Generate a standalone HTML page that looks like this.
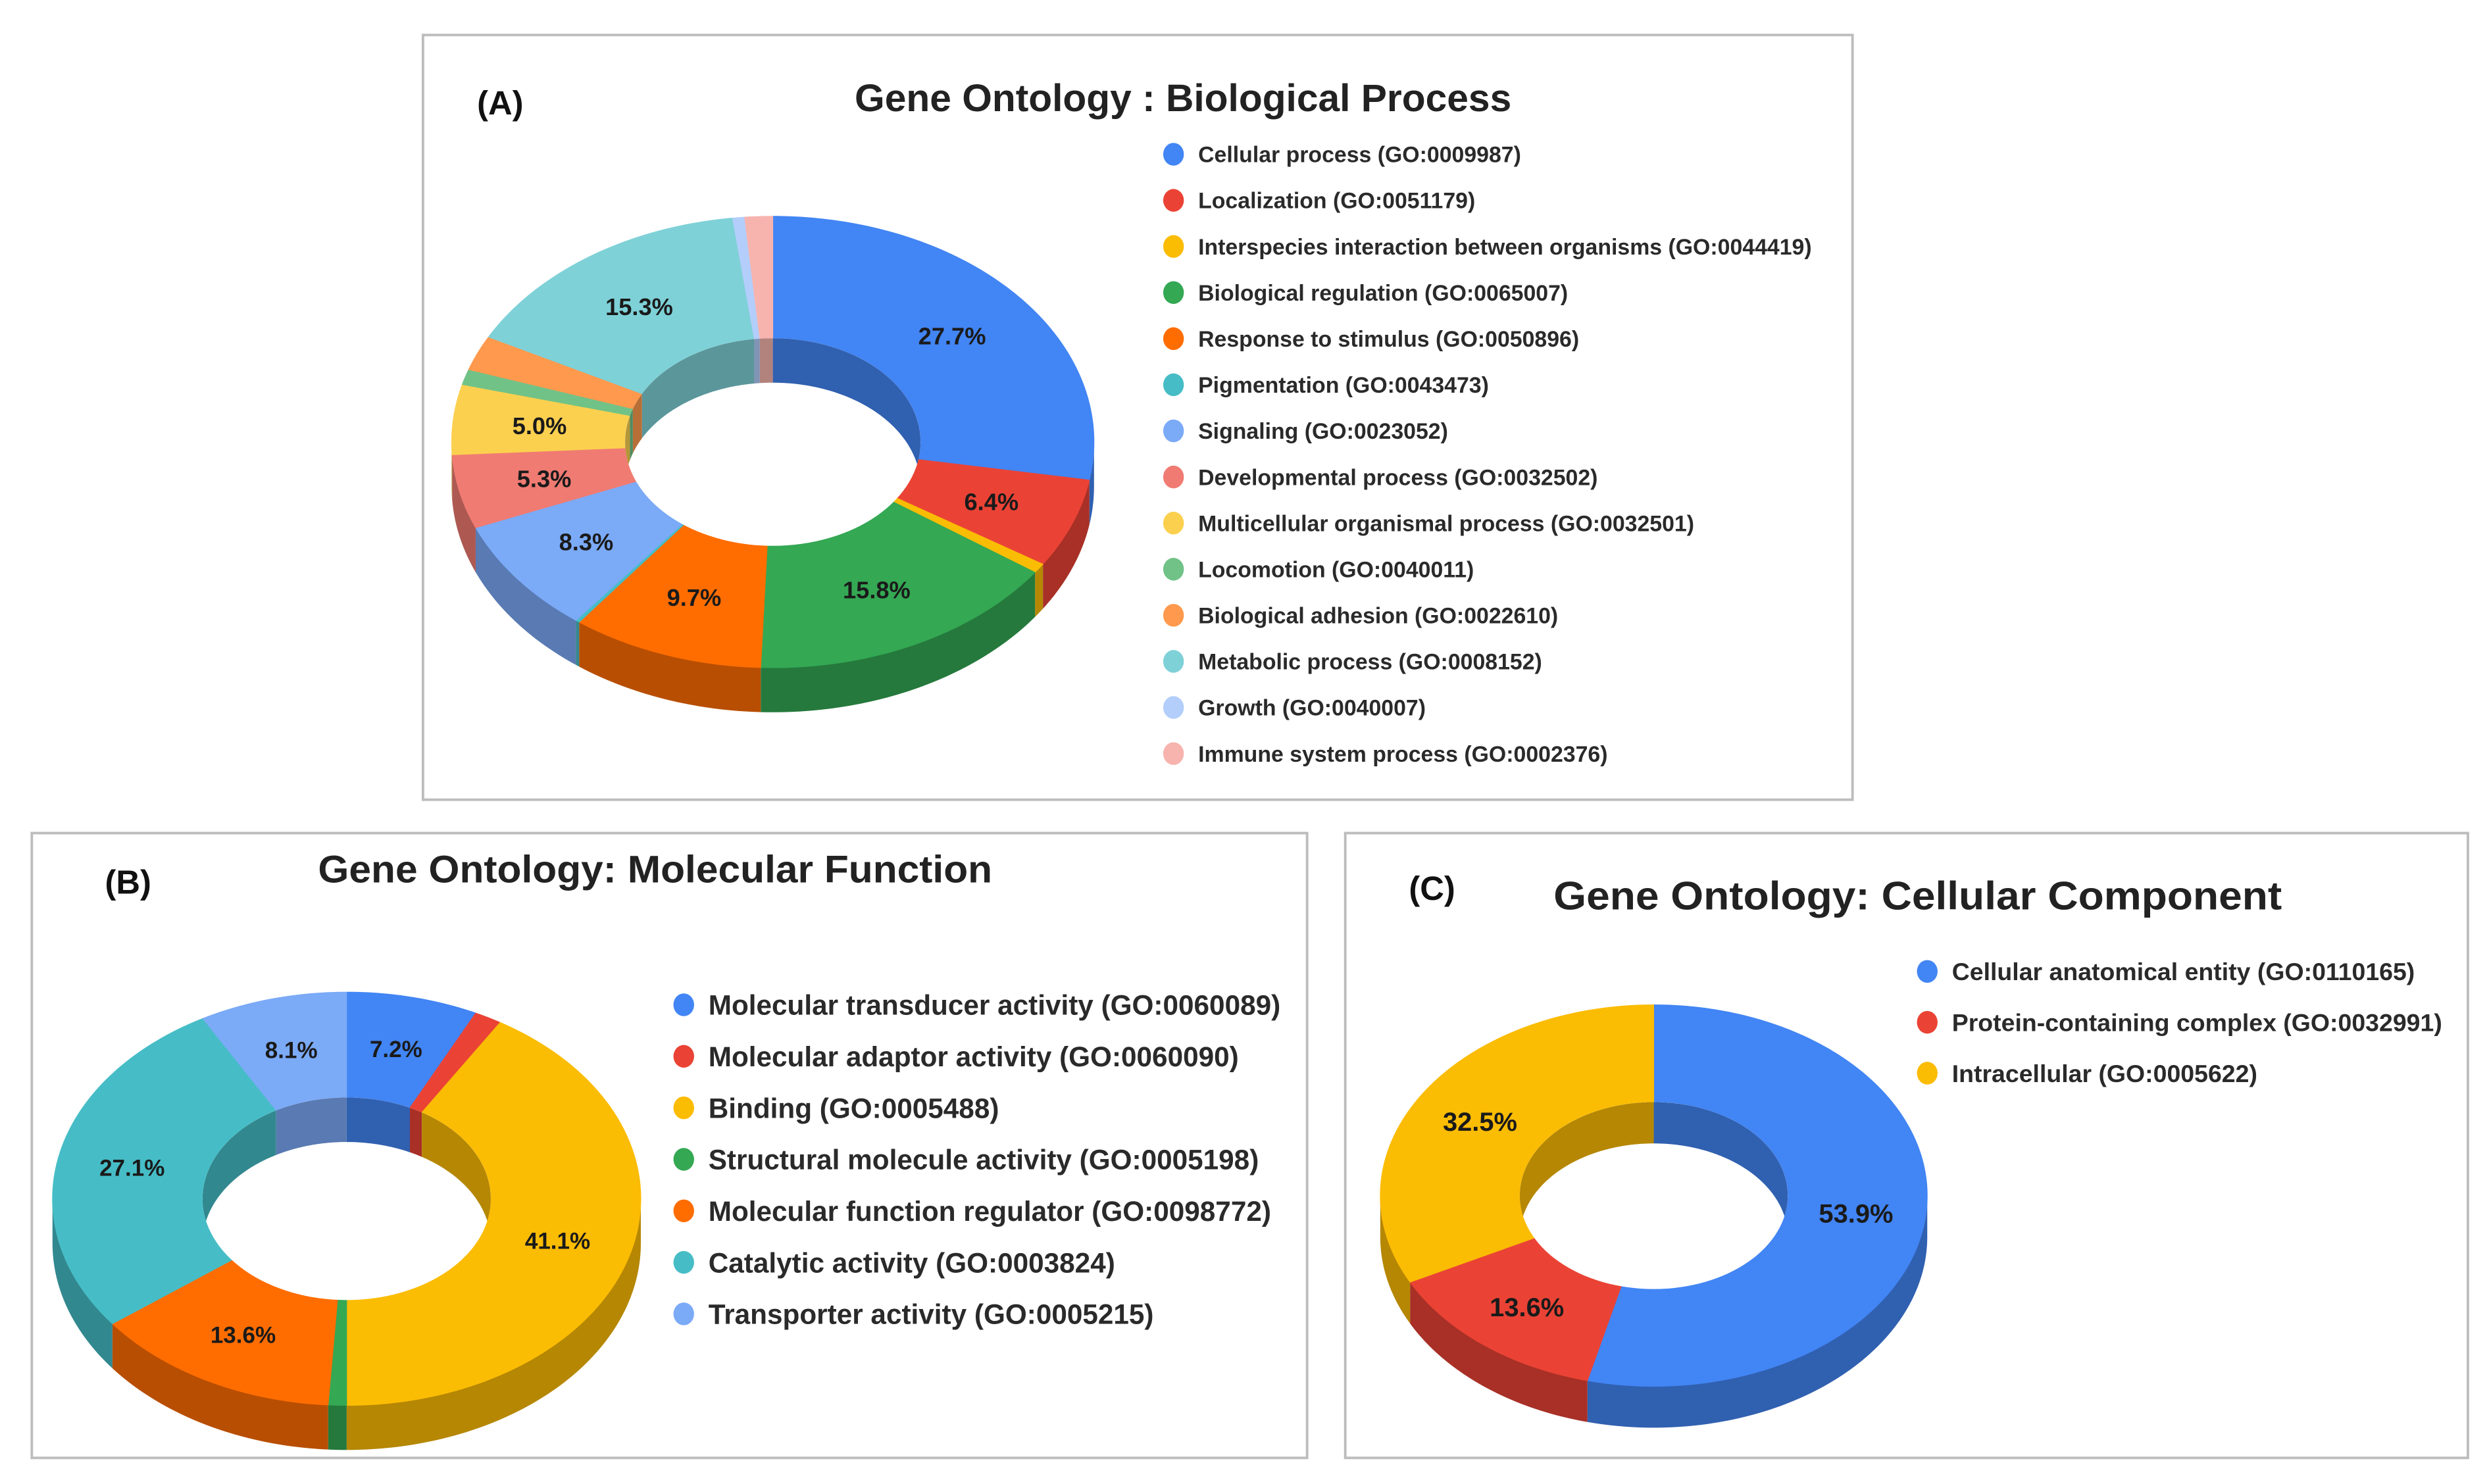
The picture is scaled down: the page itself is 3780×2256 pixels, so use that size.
<!DOCTYPE html>
<html><head><meta charset="utf-8">
<style>
html,body{margin:0;padding:0;background:#fff;}
svg{display:block;}
text{font-family:"Liberation Sans",Arial,sans-serif;}
</style></head>
<body>
<svg id="fig" width="3780" height="2256" viewBox="0 0 1564 933.4" xmlns="http://www.w3.org/2000/svg">
<rect x="0" y="0" width="1564" height="933.4" fill="#fff"/>
<rect x="266" y="22" width="899" height="481" fill="none" stroke="#bdbdbd" stroke-width="1.6"/>
<rect x="20" y="524" width="802" height="393" fill="none" stroke="#bdbdbd" stroke-width="1.6"/>
<rect x="846" y="524" width="706" height="393" fill="none" stroke="#bdbdbd" stroke-width="1.6"/>

<text x="300" y="72" font-size="21" font-weight="bold" fill="#111">(A)</text>
<text x="744" y="70" font-size="24" font-weight="bold" fill="#222" text-anchor="middle" textLength="413" lengthAdjust="spacingAndGlyphs">Gene Ontology : Biological Process</text>
<text x="66" y="562" font-size="21" font-weight="bold" fill="#111">(B)</text>
<text x="200" y="555" font-size="24" font-weight="bold" fill="#222" textLength="424" lengthAdjust="spacingAndGlyphs">Gene Ontology: Molecular Function</text>
<text x="886" y="566" font-size="21" font-weight="bold" fill="#111">(C)</text>
<text x="977" y="572" font-size="25" font-weight="bold" fill="#222" textLength="458" lengthAdjust="spacingAndGlyphs">Gene Ontology: Cellular Component</text>
<g id="charts"></g>
</svg>
<script>
// ---- Panel A data ----
const catsA = ["Cellular process (GO:0009987)","Localization (GO:0051179)","Interspecies interaction between organisms (GO:0044419)","Biological regulation (GO:0065007)","Response to stimulus (GO:0050896)","Pigmentation (GO:0043473)","Signaling (GO:0023052)","Developmental process (GO:0032502)","Multicellular organismal process (GO:0032501)","Locomotion (GO:0040011)","Biological adhesion (GO:0022610)","Metabolic process (GO:0008152)","Growth (GO:0040007)","Immune system process (GO:0002376)"];
const valsA = [27.7,6.4,0.7,15.8,9.7,0.2,8.3,5.3,5.0,1.1,2.5,15.3,0.6,1.4];
const labelsA = ["27.7%","6.4%","","15.8%","9.7%","","8.3%","5.3%","5.0%","","","15.3%","",""];
const colorsA = ["#4285f4","#ea4335","#fbbc04","#34a853","#ff6d01","#46bdc6","#7baaf7","#f07b72","#fcd04f","#71c287","#ff994d","#7ed1d7","#b3cefb","#f7b4ae"];
// ---- Panel B data ----
const catsB = ["Molecular transducer activity (GO:0060089)","Molecular adaptor activity (GO:0060090)","Binding (GO:0005488)","Structural molecule activity (GO:0005198)","Molecular function regulator (GO:0098772)","Catalytic activity (GO:0003824)","Transporter activity (GO:0005215)"];
const valsB = [7.2,1.5,41.1,1.0,13.6,27.1,8.1];
const labelsB = ["7.2%","","41.1%","","13.6%","27.1%","8.1%"];
const colorsB = ["#4285f4","#ea4335","#fbbc04","#34a853","#ff6d01","#46bdc6","#7baaf7"];
// ---- Panel C data ----
const catsC = ["Cellular anatomical entity (GO:0110165)","Protein-containing complex (GO:0032991)","Intracellular (GO:0005622)"];
const valsC = [53.9,13.6,32.5];
const labelsC = ["53.9%","13.6%","32.5%"];
const colorsC = ["#4285f4","#ea4335","#fbbc04"];

const NS = "http://www.w3.org/2000/svg";
const root = document.getElementById("charts");
function mk(tag, attrs, parent){const e=document.createElementNS(NS,tag);for(const k in attrs)e.setAttribute(k,attrs[k]);(parent||root).appendChild(e);return e;}
function darken(hex,f){const n=parseInt(hex.slice(1),16);const r=Math.round(((n>>16)&255)*f),g=Math.round(((n>>8)&255)*f),b=Math.round((n&255)*f);return `rgb(${r},${g},${b})`;}
function pt(g,rx,ry,deg,dy){const t=deg*Math.PI/180;return [g.cx+rx*Math.sin(t),g.cy-ry*Math.cos(t)+(dy||0)];}
function arc(g,rx,ry,a1,a2,dy){const pts=[];const n=Math.max(2,Math.ceil(Math.abs(a2-a1)/1));for(let i=0;i<=n;i++){pts.push(pt(g,rx,ry,a1+(a2-a1)*i/n,dy));}return pts;}
function poly(pts){return "M"+pts.map(p=>p[0].toFixed(2)+","+p[1].toFixed(2)).join("L")+"Z";}

function donut(id,g,vals,colors,labels,lfs){
  const total=vals.reduce((a,b)=>a+b,0);
  const irx=g.rx*g.ir, iry=g.ry*g.ir;
  const grp=mk("g",{});
  
  
  const angs=[];let acc=0;
  vals.forEach(v=>{const a1=acc/total*360;acc+=v;angs.push([a1,acc/total*360]);});
  angs.forEach((a,i)=>{
    const s=Math.max(a[0],90), e=Math.min(a[1],270);
    if(e>s){const top=arc(g,g.rx,g.ry,s,e,0), bot=arc(g,g.rx,g.ry,e,s,g.d);
      const w=mk("path",{d:poly(top.concat(bot)),fill:darken(colors[i],0.72)},grp);
      
      }
  });
  angs.forEach((a,i)=>{
    const o=arc(g,g.rx,g.ry,a[0],a[1],0), inn=arc(g,irx,iry,a[1],a[0],0);
    const s=mk("path",{d:poly(o.concat(inn)),fill:colors[i],stroke:colors[i],"stroke-width":0.4},grp);
    
    
  });
  const cid=id+"-hole";
  const cp=mk("clipPath",{id:cid},grp);
  mk("ellipse",{cx:g.cx,cy:g.cy,rx:irx,ry:iry},cp);
  const hole=mk("ellipse",{cx:g.cx,cy:g.cy,rx:irx,ry:iry,fill:"#fff"},grp);
  
  
  angs.forEach((a,i)=>{
    const segs=[[Math.max(a[0],0),Math.min(a[1],90)],[Math.max(a[0],270),Math.min(a[1],360)]];
    segs.forEach(sg=>{ if(sg[1]>sg[0]){
      const top=arc(g,irx,iry,sg[0],sg[1],0), bot=arc(g,irx,iry,sg[1],sg[0],g.d);
      const w=mk("path",{d:poly(top.concat(bot)),fill:darken(colors[i],0.72),"clip-path":`url(#${cid})`},grp);
      
      
    }});
  });
  angs.forEach((a,i)=>{
    if(!labels[i])return;
    const m=(a[0]+a[1])/2, rr=(1+g.ir)/2;
    const p=pt(g,g.rx*rr,g.ry*rr,m,0);
    const t=mk("text",{x:p[0],y:p[1]+lfs*0.36,"font-size":lfs,"font-weight":"bold",fill:"#1a1a1a","text-anchor":"middle"},grp);
    t.textContent=labels[i];
    
    
  });
}
function legend(id,cats,colors,x,y0,step,fs,dr){
  cats.forEach((c,i)=>{
    const y=y0+i*step;
    const d=mk("ellipse",{cx:x,cy:y,rx:dr,ry:dr*1.1,fill:colors[i]});
    
    
    const t=mk("text",{x:x+dr+9,y:y+fs*0.36,"font-size":fs,"font-weight":"bold",fill:"#2a2a2a"});
    t.textContent=c;
    
    
  });
}
donut("panel-a",{cx:486,cy:278,rx:202,ry:142,ir:0.46,d:28},valsA,colorsA,labelsA,15);
legend("panel-a",catsA,colorsA,738,97,29,14,6.5);
donut("panel-b",{cx:218,cy:754,rx:185,ry:130,ir:0.49,d:28},valsB,colorsB,labelsB,14.5);
legend("panel-b",catsB,colorsB,430,632,32.4,17.5,6.5);
donut("panel-c",{cx:1040,cy:752,rx:172,ry:120,ir:0.49,d:26},valsC,colorsC,labelsC,16.5);
legend("panel-c",catsC,colorsC,1212,611,32,15.5,6.5);
</script>
</body></html>
